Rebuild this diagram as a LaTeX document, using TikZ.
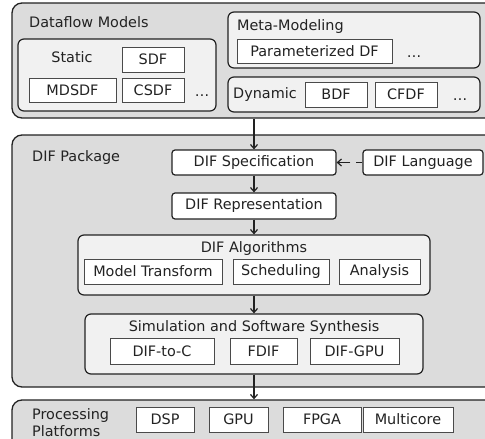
\documentclass[tikz,border=0pt]{standalone}
\usepackage{fontspec}
\setmainfont{DejaVu Sans}
\usetikzlibrary{arrows.meta}
\definecolor{panel}{HTML}{DCDCDC}
\definecolor{group}{HTML}{F1F1F1}
\definecolor{ink}{HTML}{222222}
\definecolor{leafline}{HTML}{4A4A4A}
\tikzset{
  outerbox/.style={draw=ink, fill=panel, line width=1.3pt, rounded corners=10pt, inner sep=0pt},
  groupbox/.style={draw=ink, fill=group, line width=1.2pt, rounded corners=6pt, inner sep=0pt},
  stagebox/.style={draw=ink, fill=white, line width=1.2pt, rounded corners=3pt, inner sep=0pt,
    font=\fontsize{14.4}{17}\selectfont, text=ink},
  leaf/.style={draw=leafline, fill=white, line width=0.8pt, inner sep=0pt,
    font=\fontsize{14.4}{17}\selectfont, text=ink},
  lbl/.style={inner sep=0pt, font=\fontsize{14.4}{17}\selectfont, text=ink},
  arr/.style={draw=ink, line width=1.2pt, -{Straight Barb[length=4pt,width=7pt,line width=1.2pt]}},
}
% ellipsis sitting on the baseline of the neighbouring labels
\newcommand{\moreitems}{\vphantom{CSDF}\dots}
\begin{document}
\begin{tikzpicture}[x=1pt,y=-1pt]
\useasboundingbox (0,0) rectangle (485,439);
\clip (0,0) rectangle (485,439);

% ---- dataflow models panel ----
\node[outerbox, minimum width=488pt, minimum height=115pt] (dfm) at (256,60.5) {};
\node[lbl, anchor=west] (dfmlabel) at (29,22) {Dataflow Models};

\node[groupbox, minimum width=198pt, minimum height=72pt] (static) at (117,75) {};
\node[lbl] (staticlabel) at (72,57) {Static};
\node[leaf, minimum width=62pt, minimum height=25pt] (sdf) at (153,59.5) {SDF};
\node[leaf, minimum width=87pt, minimum height=24pt] (mdsdf) at (72.5,90) {MDSDF};
\node[leaf, minimum width=62pt, minimum height=24pt] (csdf) at (153,90) {CSDF};
\node[lbl] (staticmore) at (202,91) {\moreitems};

\node[groupbox, minimum width=252pt, minimum height=56pt] (meta) at (354,40) {};
\node[lbl, anchor=west] (metalabel) at (237,27) {Meta-Modeling};
\node[leaf, minimum width=155pt, minimum height=24pt] (pdf) at (314.5,51) {Parameterized DF};
\node[lbl] (metamore) at (414,52) {\moreitems};

\node[groupbox, minimum width=252pt, minimum height=35pt] (dyn) at (354,94.5) {};
\node[lbl, anchor=west] (dynlabel) at (233,95) {Dynamic};
\node[leaf, minimum width=62pt, minimum height=25pt] (bdf) at (336,94.5) {BDF};
\node[leaf, minimum width=62pt, minimum height=25pt] (cfdf) at (406,94.5) {CFDF};
\node[lbl] (dynmore) at (460,95.5) {\moreitems};

% ---- DIF package panel ----
\node[outerbox, minimum width=488pt, minimum height=252pt] (pkg) at (256,261) {};
\node[lbl, anchor=west] (pkglabel) at (32,158) {DIF Package};

\node[stagebox, minimum width=164pt, minimum height=25pt] (dspec) at (254,162.5) {DIF Specification};
\node[stagebox, minimum width=120pt, minimum height=25pt] (dlang) at (423,162.5) {DIF Language};
\node[stagebox, minimum width=164pt, minimum height=26pt] (drep) at (254,206) {DIF Representation};

\node[groupbox, minimum width=352pt, minimum height=60pt] (alg) at (254,265) {};
\node[lbl] (alglabel) at (254,249) {DIF Algorithms};
\node[leaf, minimum width=138pt, minimum height=25pt] (mt) at (153,271.5) {Model Transform};
\node[leaf, minimum width=96pt, minimum height=25pt] (sched) at (281,271.5) {Scheduling};
\node[leaf, minimum width=81pt, minimum height=25pt] (ana) at (379.5,271.5) {Analysis};

\node[groupbox, minimum width=338pt, minimum height=60pt] (sim) at (254,344) {};
\node[lbl] (simlabel) at (254,328) {Simulation and Software Synthesis};
\node[leaf, minimum width=104pt, minimum height=26pt] (dtoc) at (162,351) {DIF-to-C};
\node[leaf, minimum width=67pt, minimum height=26pt] (fdif) at (263.5,351) {FDIF};
\node[leaf, minimum width=89pt, minimum height=26pt] (dgpu) at (354.5,351) {DIF-GPU};

% ---- processing platforms panel ----
\node[outerbox, minimum width=488pt, minimum height=60pt] (plat) at (256,430) {};
\node[lbl, anchor=west, align=left] (platlabel) at (32,423) {Processing\\Platforms};
\node[leaf, minimum width=58pt, minimum height=25pt] (dsp) at (165,419.5) {DSP};
\node[leaf, minimum width=59pt, minimum height=25pt] (gpu) at (238.5,419.5) {GPU};
\node[leaf, minimum width=78pt, minimum height=25pt] (fpga) at (322,419.5) {FPGA};
\node[leaf, minimum width=90pt, minimum height=25pt] (mc) at (408,419.5) {Multicore};

% ---- connectors ----
\draw[arr] (dspec.north |- dfm.south) -- (dspec.north);
\draw[arr, dash pattern=on 6pt off 6pt on 30pt off 0pt] (dlang.west) -- (dspec.east);
\draw[arr] (dspec.south) -- (drep.north);
\draw[arr] (drep.south) -- (alg.north);
\draw[arr] (alg.south) -- (sim.north);
\draw[arr] (sim.south) -- (sim.south |- plat.north);
\end{tikzpicture}
\end{document}
